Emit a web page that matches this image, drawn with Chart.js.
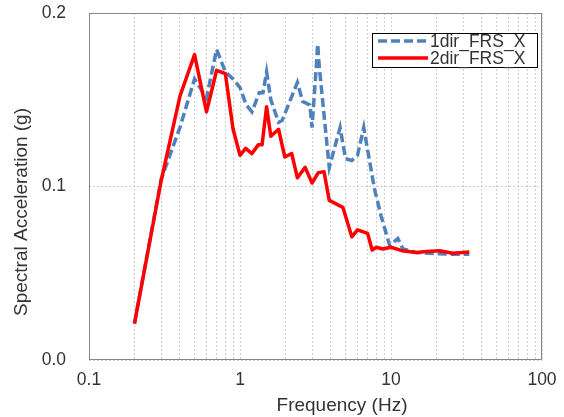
<!DOCTYPE html>
<html>
<head>
<meta charset="utf-8">
<script src="https://cdn.jsdelivr.net/npm/chart.js@4"></script>
<style>
  html, body { margin: 0; padding: 0; background: #fff; }
  #wrap { width: 564px; height: 417px; }
</style>
</head>
<body>
<div id="wrap"><canvas id="frsChart" width="564" height="417"></canvas></div>
<script>
// ── 데이터
const blueFreq = [0.2, 0.3, 0.4, 0.5, 0.6, 0.7, 0.8, 0.9, 1.0, 1.1, 1.2, 1.34, 1.42, 1.5, 1.6, 1.8, 1.9, 2.4, 2.6, 2.9, 3.0, 3.2, 3.27, 3.35, 3.9, 4.6, 5.0, 5.5, 6.0, 6.6, 7.0, 7.8, 8.6, 9.8, 11.1, 12.0, 14.7, 18, 24.4, 33];
const blueVal  = [0.021, 0.104, 0.134, 0.162, 0.151, 0.179, 0.166, 0.162, 0.157, 0.147, 0.143, 0.154, 0.154, 0.166, 0.150, 0.137, 0.138, 0.160, 0.149, 0.147, 0.134, 0.169, 0.182, 0.169, 0.111, 0.134, 0.116, 0.115, 0.118, 0.134, 0.121, 0.098, 0.083, 0.066, 0.070, 0.064, 0.062, 0.0615, 0.061, 0.061];

const redFreq = [0.2, 0.3, 0.4, 0.5, 0.6, 0.7, 0.8, 0.9, 1.0, 1.09, 1.2, 1.32, 1.4, 1.5, 1.6, 1.8, 1.98, 2.2, 2.4, 2.7, 3.0, 3.3, 3.6, 3.9, 4.8, 5.5, 6.0, 7.0, 7.5, 8.0, 8.8, 10, 11.8, 14.7, 17.2, 21, 25.6, 33];
const redVal  = [0.021, 0.103, 0.152, 0.176, 0.143, 0.167, 0.165, 0.133, 0.118, 0.122, 0.119, 0.124, 0.124, 0.146, 0.129, 0.133, 0.117, 0.119, 0.105, 0.111, 0.102, 0.108, 0.1085, 0.092, 0.088, 0.071, 0.075, 0.073, 0.0634, 0.065, 0.064, 0.065, 0.063, 0.062, 0.0625, 0.063, 0.0615, 0.0622];

const seriesNames = ['1dir_FRS_X', '2dir_FRS_X'];
const xDecades = [0.1, 1, 10, 100];
const yTicks = [0, 0.1, 0.2];
const xTitle = 'Frequency (Hz)';
const yTitle = 'Spectral Acceleration (g)';

const FONT = "'Liberation Sans', Arial, sans-serif";
const TEXT = '#333333';

const toPoints = (xs, ys) => xs.map((x, i) => ({ x, y: ys[i] }));

// 로그축 1~9 눈금
function logTicks() {
  const out = [];
  xDecades.forEach((d, i) => {
    if (i === xDecades.length - 1) { out.push(d); return; }
    for (let k = 1; k <= 9; k++) out.push(+(d * k).toPrecision(3));
  });
  return out;
}

// ── 테두리, 축 제목, 범례
const decor = {
  id: 'decor',
  beforeDatasetsDraw(chart) {
    const { ctx, chartArea: a } = chart;
    ctx.save();
    ctx.strokeStyle = '#868686';
    ctx.lineWidth = 1;
    ctx.strokeRect(a.left + 0.5, a.top + 0.5, a.right - a.left - 1, a.bottom - a.top - 1);
    ctx.restore();
  },
  afterDraw(chart) {
    const { ctx } = chart;
    ctx.save();
    ctx.fillStyle = TEXT;
    ctx.font = `19px ${FONT}`;
    ctx.textAlign = 'center';
    ctx.textBaseline = 'middle';
    ctx.fillText(xTitle, 342, 406);
    ctx.translate(22, 212);
    ctx.rotate(-Math.PI / 2);
    ctx.fillText(yTitle, 0, 0);
    ctx.restore();

    // 범례
    const bx = 372, by = 33, bw = 165, bh = 34;
    ctx.save();
    ctx.fillStyle = '#fff';
    ctx.fillRect(bx, by, bw, bh);
    ctx.strokeStyle = '#000';
    ctx.lineWidth = 1;
    ctx.strokeRect(bx + 0.5, by + 0.5, bw, bh);
    chart.data.datasets.forEach((ds, i) => {
      const yy = by + 8 + i * 17;
      ctx.beginPath();
      ctx.strokeStyle = ds.borderColor;
      ctx.lineWidth = ds.borderWidth;
      ctx.setLineDash(ds.borderDash || []);
      ctx.moveTo(378, yy);
      ctx.lineTo(428, yy);
      ctx.stroke();
      ctx.setLineDash([]);
      ctx.fillStyle = TEXT;
      ctx.font = `17.5px ${FONT}`;
      ctx.textAlign = 'left';
      ctx.textBaseline = 'middle';
      ctx.fillText(ds.label, 430, yy + 1);
    });
    ctx.restore();
  }
};

new Chart(document.getElementById('frsChart'), {
  type: 'line',
  data: {
    datasets: [
      {
        label: seriesNames[0],
        data: toPoints(blueFreq, blueVal),
        borderColor: '#4f81bd',
        borderWidth: 3.5,
        borderDash: [9, 4],
        pointRadius: 0,
        tension: 0,
        order: 1,
      },
      {
        label: seriesNames[1],
        data: toPoints(redFreq, redVal),
        borderColor: '#ff0000',
        borderWidth: 3.5,
        pointRadius: 0,
        tension: 0,
        borderJoinStyle: 'round',
        order: 0,
      }
    ]
  },
  options: {
    responsive: false,
    animation: false,
    events: [],
    layout: { padding: { top: 13, right: 22, left: 0, bottom: 0 } },
    plugins: { legend: { display: false }, tooltip: { enabled: false } },
    scales: {
      x: {
        type: 'logarithmic',
        min: 0.1,
        max: 100,
        afterBuildTicks: s => { s.ticks = logTicks().map(v => ({ value: v })); },
        afterFit: s => { s.height = 57; s.paddingLeft = 0; s.paddingRight = 0; },
        grid: { color: '#d0d0d0', lineWidth: 1, drawTicks: false },
        border: { display: false, dash: [2, 2] },
        ticks: {
          autoSkip: false,
          maxRotation: 0,
          padding: 10,
          color: TEXT,
          font: { family: FONT, size: 17.5 },
          callback: v => xDecades.includes(v) ? String(v) : '',
        },
      },
      y: {
        min: 0,
        max: 0.2,
        afterBuildTicks: s => { s.ticks = yTicks.map(v => ({ value: v })); },
        afterFit: s => { s.width = 89; s.paddingTop = 0; s.paddingBottom = 0; },
        grid: { color: '#d0d0d0', lineWidth: 1, drawTicks: false },
        border: { display: false, dash: [2, 2] },
        ticks: {
          padding: 23,
          color: TEXT,
          font: { family: FONT, size: 17.5 },
          callback: v => v.toFixed(1),
        },
      }
    }
  },
  plugins: [decor]
});
</script>
</body>
</html>
